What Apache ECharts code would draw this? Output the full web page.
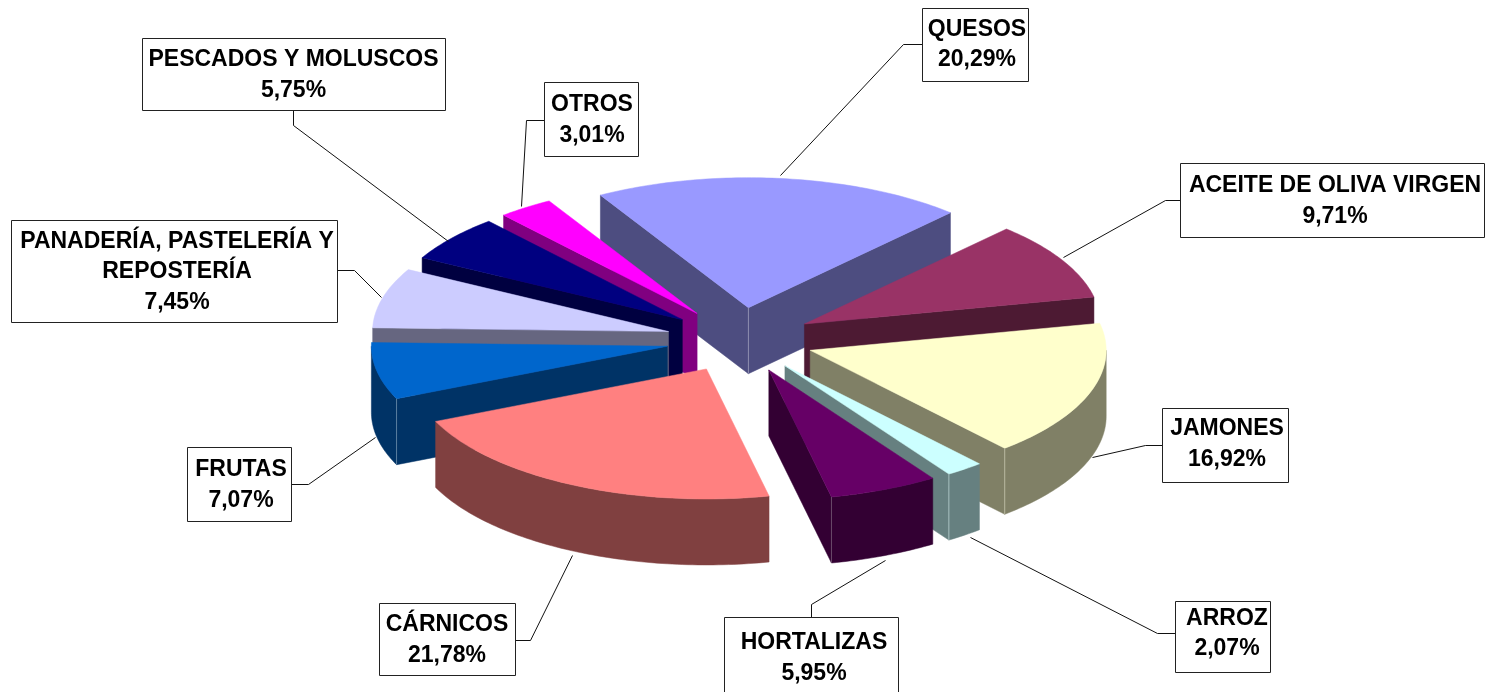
<!DOCTYPE html>
<html><head><meta charset="utf-8">
<style>html,body{margin:0;padding:0;background:#fff}#c{width:1488px;height:692px}</style>
<script src="https://cdn.jsdelivr.net/npm/echarts@6/dist/echarts.min.js"></script>
</head><body><div id="c"></div>
<script>
// Data
const categories = ['QUESOS','ACEITE DE OLIVA VIRGEN','JAMONES','ARROZ','HORTALIZAS','CÁRNICOS','FRUTAS','PANADERÍA, PASTELERÍA Y\nREPOSTERÍA','PESCADOS Y MOLUSCOS','OTROS'];
const shares = [20.29,9.71,16.92,2.07,5.95,21.78,7.07,7.45,5.75,3.01];
// Styling
const topColors  = ['#9999FF','#993366','#FFFFCC','#CCFFFF','#660066','#FF8080','#0066CC','#CCCCFF','#000080','#FF00FF'];
const wallColors = ['#4D4D80','#4D1A33','#808066','#668080','#330033','#804040','#003366','#666680','#000040','#800080'];
const edgeColors = ['#8F8FB0','#8A5C74','#B8B8A0','#A8C0C0','#6A4A6A','#A87070','#5A7FA0','#9090A8','#404070','#A040A0'];
// Layout of the 3D pie: a tilted disc, drawn from the shares
const CX = 740, CY = 340, RX = 296, RY = 130, DEPTH = 66, EXPLODE = 0.25, START_DEG = -30;
// Annotation layout: box [x0,y0,x1,y1], text offset from the box centre, leader path
const boxes = [[922,8,1028,81],[1180,163,1484,237],[1162,408,1288,482],[1175,601,1270,672],[724,617,898,697],[379,603,515,675],[187,447,291,521],[11,220,337,322],[142,38,445,110],[544,82,638,156]];
const textShift = [[2,0],[3,1],[2,-1],[4.5,-3],[3,1],[0,1],[2,1],[3,1],[0,1],[1,1]];
const leaders = [
 [[780,175],[903,44],[922,44]],
 [[1063,257],[1165,200],[1180,200]],
 [[1092,457],[1145,445],[1162,445]],
 [[970,537],[1157,633],[1175,633]],
 [[885,560],[811,604],[811,617]],
 [[572,555],[530,640],[515,640]],
 [[375,437],[308,484],[291,484]],
 [[381,297],[354,270],[337,270]],
 [[448,241],[293,125],[293,110]],
 [[521,206],[526,120],[544,120]]
];
const FONT = 'bold 23px "Liberation Sans", Arial, sans-serif';

const total = shares.reduce((a,b)=>a+b,0);
const rad = d => d*Math.PI/180;
const angles = []; let acc = START_DEG;
shares.forEach(v => { const a0 = acc; acc += v/total*360; angles.push([a0,acc]); });
const mids = angles.map(a => (a[0]+a[1])/2);
const rank = mids.map((m,i)=>[Math.cos(rad(m)),i]).sort((a,b)=>b[0]-a[0]).reduce((r,e,k)=>{r[e[1]]=k;return r;},{});

function pt(ax,ay,deg){ return [ax+RX*Math.sin(rad(deg)), ay-RY*Math.cos(rad(deg))]; }
function down(p){ return [p[0],p[1]+DEPTH]; }
function arc(ax,ay,a0,a1){ const n=Math.max(2,Math.ceil(Math.abs(a1-a0))), r=[]; for(let k=0;k<=n;k++) r.push(pt(ax,ay,a0+(a1-a0)*k/n)); return r; }

function renderSlice(params, api){
  const i = params.dataIndex, v = api.value(0);
  const a0 = angles[i][0], a1 = a0 + v/total*360, m = (a0+a1)/2;
  const ax = CX + EXPLODE*RX*Math.sin(rad(m)), ay = CY - EXPLODE*RY*Math.cos(rad(m));
  const apex = [ax,ay], p0 = pt(ax,ay,a0), p1 = pt(ax,ay,a1);
  const z = 10*(rank[i]+1), ch = [];
  const poly = (pts,fill) => ch.push({type:'polygon',shape:{points:pts},style:{fill,stroke:fill,lineWidth:0.5},z2:z});
  const edge = (p) => ch.push({type:'line',shape:{x1:p[0],y1:p[1],x2:p[0],y2:p[1]+DEPTH},style:{stroke:edgeColors[i],lineWidth:1},z2:z+1});
  const s0 = Math.sin(rad(a0))<0, s1 = Math.sin(rad(a1))>0;
  if (s0) poly([apex,p0,down(p0),down(apex)],wallColors[i]);
  if (s1) poly([apex,p1,down(p1),down(apex)],wallColors[i]);
  // outer rim: only the near half of the disc shows
  const lo = Math.max(a0,90), hi = Math.min(a1,270);
  if (hi>lo){
    const top = arc(ax,ay,lo,hi);
    poly(top.concat(top.slice().reverse().map(down)),wallColors[i]);
    if (s1 && hi===a1) edge(p1);
    if (s0 && lo===a0) edge(p0);
  }
  if (s0 && s1) edge(apex);
  poly([apex].concat(arc(ax,ay,a0,a1)),topColors[i]);
  return {type:'group',children:ch};
}

function renderLabel(params, api){
  const i = params.dataIndex, b = boxes[i], d = textShift[i];
  const txt = categories[i]+'\n'+api.value(0).toFixed(2).replace('.',',')+'%';
  const l = leaders[i];
  return {type:'group',children:[
    {type:'polyline',shape:{points:l.map(p=>[p[0]+.5,p[1]+.5])},style:{stroke:'#111',lineWidth:1,fill:'none'},z2:1},
    {type:'rect',shape:{x:b[0]+.5,y:b[1]+.5,width:b[2]-b[0],height:b[3]-b[1]},style:{fill:'#fff',stroke:'#222',lineWidth:1},z2:2},
    {type:'text',style:{x:(b[0]+b[2])/2+d[0],y:(b[1]+b[3])/2+d[1],text:txt,font:FONT,fill:'#000',align:'center',verticalAlign:'middle',lineHeight:30.5},z2:3}
  ]};
}

const chart = echarts.init(document.getElementById('c'),null,{renderer:'canvas'});
chart.setOption({
  animation:false,
  backgroundColor:'#fff',
  series:[
    {type:'custom',coordinateSystem:'none',silent:true,data:shares.map(v=>[v]),renderItem:renderSlice,z:1},
    {type:'custom',coordinateSystem:'none',silent:true,data:shares.map(v=>[v]),renderItem:renderLabel,z:2}
  ]
});
</script></body></html>
